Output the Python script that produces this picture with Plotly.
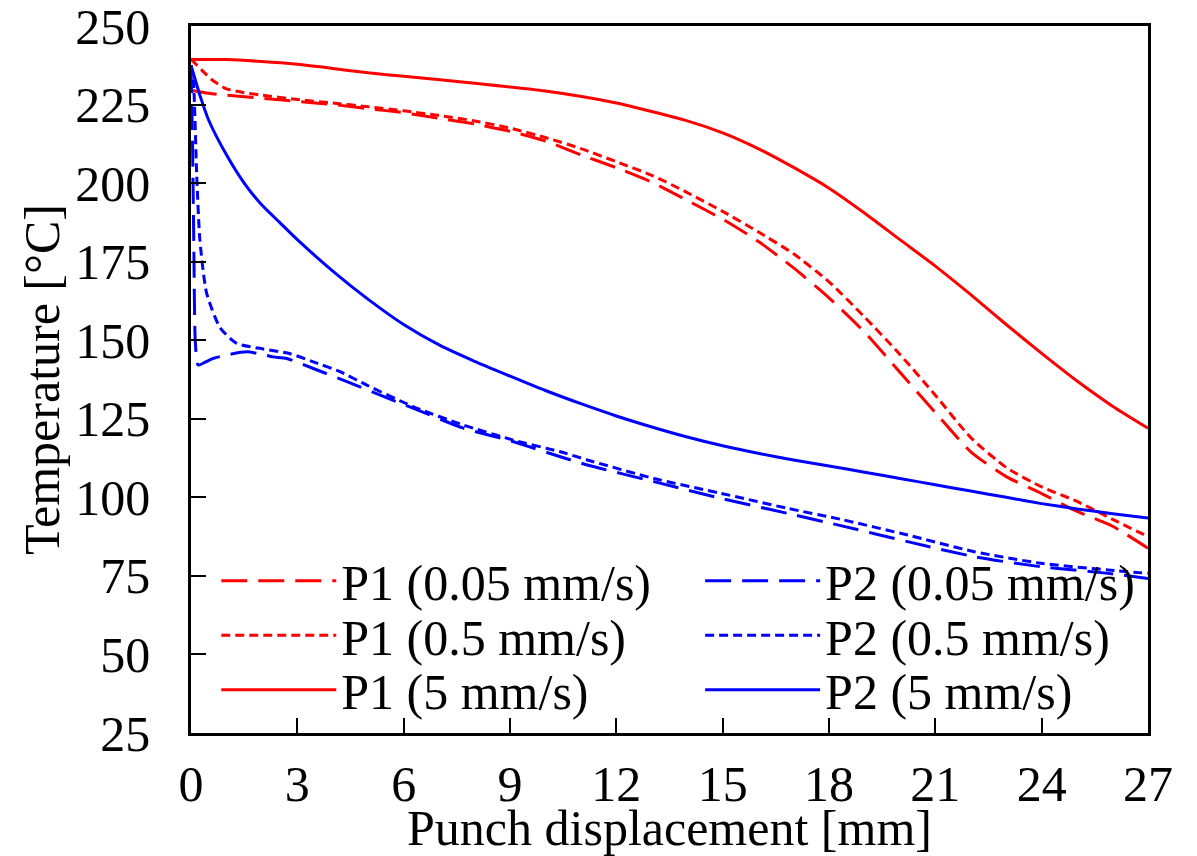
import plotly.graph_objects as go

# ---- data ----
p1_005_x = [0, 0.5, 1, 2, 3, 4, 5, 6, 7, 8, 9, 10, 11, 12, 13, 14, 15, 16, 17, 18, 19, 20, 21, 22, 23, 24, 25, 26, 27]
p1_005_y = [229.6, 228.6, 228.0, 227.0, 226.0, 225.0, 223.7, 222.4, 220.6, 218.8, 216.5, 213.4, 209.0, 204.9, 200.3,
            194.5, 188.5, 181.5, 173.0, 163.5, 152.6, 139.8, 127.0, 114.5, 106.6, 101.2, 95.5, 90.8, 83.8]

p1_05_x = [0, 0.3, 0.6, 1, 1.5, 2, 3, 4, 5, 6, 7, 8, 9, 10, 11, 12, 13, 14, 15, 16, 17, 18, 19, 20, 21, 22, 23, 24, 25, 26, 27]
p1_05_y = [239.5, 236.0, 232.8, 230.0, 228.8, 228.0, 226.6, 225.5, 224.3, 223.0, 221.5, 219.8, 217.5, 214.5, 211.0,
           206.8, 202.5, 197.0, 191.0, 184.5, 177.5, 168.6, 157.4, 145.5, 132.5, 119.0, 109.5, 103.3, 98.7, 93.0, 87.5]

p1_5_x = [0, 1, 2, 3, 4, 5, 6, 8, 10, 12, 14, 15, 16, 17, 18, 19, 20, 21, 22, 23, 24, 25, 26, 27]
p1_5_y = [239.3, 239.3, 238.7, 237.8, 236.5, 235.1, 234.0, 231.8, 229.3, 225.5, 219.8, 216.0, 211.0, 205.0, 198.4,
          190.5, 182.0, 173.6, 164.5, 155.0, 145.8, 137.0, 129.0, 122.0]

p2_005_x = [0, 0.04, 0.08, 0.12, 0.2, 0.4, 0.63, 1, 1.57, 2, 2.32, 2.7, 3.45, 4.4, 5.34, 6.28, 7.69, 9.1, 10.42, 11.18,
            13.06, 14.94, 16.83, 18.33, 20.22, 22.1, 23.98, 25.87, 27]
p2_005_y = [237.0, 215.0, 180.0, 150.0, 142.1, 143.0, 144.2, 145.3, 146.3, 145.5, 144.7, 144.2, 141.0, 136.8, 132.5,
            128.3, 122.0, 117.7, 112.9, 110.3, 105.0, 99.7, 94.9, 91.0, 85.9, 81.1, 77.9, 75.8, 74.2]

p2_05_x = [0, 0.07, 0.16, 0.25, 0.44, 0.82, 1.29, 2.04, 2.8, 3.45, 4.2, 4.96, 6.28, 7.69, 9.1, 10.42, 11.18, 13.06,
           14.94, 16.83, 18.33, 20.22, 22.1, 23.98, 25.87, 27]
p2_05_y = [237.5, 232.0, 203.0, 182.0, 165.0, 154.0, 149.0, 147.2, 145.7, 143.1, 140.0, 135.7, 128.8, 123.0, 118.2,
           114.5, 111.9, 106.0, 101.3, 96.5, 93.0, 88.0, 82.7, 79.0, 76.9, 75.8]

p2_5_x = [0, 0.25, 0.5, 1, 1.5, 2, 2.5, 3, 4, 5, 6, 7, 8, 9, 10, 11, 12, 13, 14, 15, 16, 17, 18, 19, 20, 21, 22, 23,
          24, 25, 26, 27]
p2_5_y = [237.5, 228.0, 220.0, 209.0, 200.0, 193.0, 187.5, 182.0, 172.0, 163.0, 155.0, 148.5, 143.3, 138.6, 134.0,
          129.8, 125.9, 122.4, 119.2, 116.4, 114.0, 111.9, 110.0, 108.0, 106.0, 104.0, 102.0, 100.0, 98.0, 96.3,
          94.8, 93.4]

names = ["P1 (0.05 mm/s)", "P1 (0.5 mm/s)", "P1 (5 mm/s)",
         "P2 (0.05 mm/s)", "P2 (0.5 mm/s)", "P2 (5 mm/s)"]

x_ticks = [0, 3, 6, 9, 12, 15, 18, 21, 24, 27]
y_ticks = [25, 50, 75, 100, 125, 150, 175, 200, 225, 250]

RED = "#FF0000"
BLUE = "#0000FF"
LONG = "26px,11px"
SHORT = "9px,5px"

series = [
    (p1_005_x, p1_005_y, RED, LONG),
    (p1_05_x, p1_05_y, RED, SHORT),
    (p1_5_x, p1_5_y, RED, "solid"),
    (p2_005_x, p2_005_y, BLUE, LONG),
    (p2_05_x, p2_05_y, BLUE, SHORT),
    (p2_5_x, p2_5_y, BLUE, "solid"),
]

FONT = "Liberation Serif, Times New Roman, serif"
FS = 50

fig = go.Figure()
for i, ((xs, ys, col, dash), nm) in enumerate(zip(series, names)):
    fig.add_trace(go.Scatter(
        x=xs, y=ys, mode="lines", name=nm,
        line=dict(color=col, width=3, dash=dash, shape="spline", smoothing=0.6),
        legend="legend" if i == 0 else f"legend{i+1}",
    ))

# Legend positions (paper coords), one legend per entry
left_x, right_x = 0.0264, 0.532
row_y = [0.2153, 0.1382, 0.0612]
leg_common = dict(xanchor="left", yanchor="middle", bgcolor="rgba(0,0,0,0)",
                  borderwidth=0, font=dict(family=FONT, size=FS, color="black"),
                  itemwidth=115, tracegroupgap=0)
legends = {}
for i in range(6):
    col = left_x if i < 3 else right_x
    ry = row_y[i % 3]
    key = "legend" if i == 0 else f"legend{i+1}"
    legends[key] = dict(x=col, y=ry, **leg_common)

fig.update_layout(
    width=1197, height=856,
    margin=dict(l=191, r=49, t=26, b=123, autoexpand=False),
    paper_bgcolor="white", plot_bgcolor="white",
    font=dict(family=FONT, size=FS, color="black"),
    showlegend=True,
    **legends,
)

fig.update_xaxes(
    range=[0, 27], tickvals=x_ticks, ticktext=[str(v) for v in x_ticks],
    showgrid=False, zeroline=False, showline=True, linecolor="black", linewidth=2.5,
    mirror=True, ticks="inside", ticklen=15, tickwidth=2, tickcolor="black",
    tickfont=dict(family=FONT, size=FS, color="black"), ticklabelstandoff=5,
    ticklabeloverflow="allow",
    title=dict(text="Punch displacement [mm]", font=dict(family=FONT, size=FS, color="black"), standoff=30),
    automargin=False,
)
fig.update_yaxes(
    range=[24.999, 250.001], tickvals=y_ticks, ticktext=[str(v) for v in y_ticks],
    showgrid=False, zeroline=False, showline=True, linecolor="black", linewidth=2.5,
    mirror=True, ticks="inside", ticklen=15, tickwidth=2, tickcolor="black",
    tickfont=dict(family=FONT, size=FS, color="black"), ticklabelstandoff=28,
    ticklabeloverflow="allow",
    title=dict(text="Temperature [°C]", font=dict(family=FONT, size=FS, color="black"), standoff=0),
    automargin=False,
)

fig.write_html("out.html")
